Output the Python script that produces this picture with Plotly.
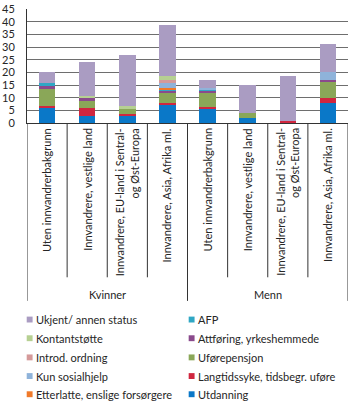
import plotly.graph_objects as go

# Categories (x) grouped by sex
groups = ["Kvinner", "Menn"]
categories = [
    "Uten innvandrerbakgrunn",
    "Innvandrere, vestlige land",
    "Innvandrere, EU-land i Sentral-<br>og Øst-Europa",
    "Innvandrere, Asia, Afrika ml.",
]
x_keys = [f"{g}|{c}" for g in groups for c in categories]

# Stacked series, bottom to top (percent)
utdanning = [5.8, 2.8, 2.8, 7.0, 5.5, 2.0, 0.0, 8.0]
langtidssyke = [1.0, 3.0, 0.9, 1.0, 1.0, 0.0, 0.7, 2.0]
uforepensjon = [6.8, 2.8, 1.8, 4.0, 5.2, 2.0, 0.0, 6.0]
attforing = [0.9, 1.1, 0.0, 0.7, 0.9, 0.0, 0.0, 1.0]
afp = [1.1, 0.0, 0.0, 0.3, 0.8, 0.0, 0.0, 0.0]
etterlatte = [0.0, 0.0, 0.0, 1.0, 0.0, 0.0, 0.0, 0.0]
kun_sosialhjelp = [0.0, 0.0, 0.0, 1.6, 0.5, 0.0, 0.0, 3.0]
introd = [0.0, 0.0, 0.0, 1.4, 0.0, 0.0, 0.0, 0.0]
kontantstotte = [0.0, 0.9, 1.2, 1.7, 0.0, 0.0, 0.0, 0.0]
ukjent = [4.4, 13.3, 20.2, 20.1, 3.1, 11.0, 18.0, 11.0]

series = [
    ("Utdanning", utdanning, "#0a78c8"),
    ("Langtidssyke, tidsbegr. uføre", langtidssyke, "#d0263f"),
    ("Uførepensjon", uforepensjon, "#8aa758"),
    ("Attføring, yrkeshemmede", attforing, "#8a4a8c"),
    ("AFP", afp, "#2fa7c4"),
    ("Etterlatte, enslige forsørgere", etterlatte, "#f07a2a"),
    ("Kun sosialhjelp", kun_sosialhjelp, "#8fb3da"),
    ("Introd. ordning", introd, "#d59a9a"),
    ("Kontantstøtte", kontantstotte, "#b6d092"),
    ("Ukjent/ annen status", ukjent, "#aa9cc2"),
]

y_ticks = [0, 5, 10, 15, 20, 25, 30, 35, 40, 45]

FONT = "Lato"
TXT = "#262626"
W, H = 350, 408
ML, MR, MT, MB = 21, 2, 7, 285
PW = W - ML - MR
PH = H - MT - MB


def py(p):
    """pixel row -> paper y"""
    return (H - MB - p) / PH


def px(p):
    """pixel column -> paper x"""
    return (p - ML) / PW


fig = go.Figure()
for name, vals, color in series:
    fig.add_trace(go.Bar(
        x=x_keys, y=vals, name=name,
        marker=dict(color=color, line=dict(width=0)),
        showlegend=False,
    ))

fig.update_layout(
    barmode="stack",
    bargap=0.59,
    width=W, height=H,
    margin=dict(l=ML, r=MR, t=MT, b=MB),
    paper_bgcolor="white",
    plot_bgcolor="white",
    font=dict(family=FONT, size=11, color=TXT),
    xaxis=dict(
        type="category", categoryorder="array", categoryarray=x_keys,
        range=[-0.5, len(x_keys) - 0.5],
        showticklabels=False, ticks="", showgrid=False,
        showline=True, linecolor="#333333", linewidth=1,
    ),
    yaxis=dict(
        range=[0, 45], tickvals=y_ticks, ticktext=[str(v) for v in y_ticks],
        showgrid=True, gridcolor="#6e6e6e", gridwidth=1,
        showline=True, linecolor="#333333", linewidth=1,
        zeroline=False, ticks="", ticklabelstandoff=9,
        ticklabeloverflow="allow",
        tickfont=dict(size=11, color=TXT),
    ),
)

shapes = []
annotations = []

# Category dividers below the axis
for i in range(len(x_keys) + 1):
    bottom = 304 if i % 4 == 0 else 280
    shapes.append(dict(
        type="line", xref="x", yref="paper",
        x0=i - 0.5, x1=i - 0.5, y0=0, y1=py(bottom),
        line=dict(color="#333333", width=1),
    ))

# Rotated category labels
for i, key in enumerate(x_keys):
    annotations.append(dict(
        x=i, y=py(126), xref="x", yref="paper",
        text=key.split("|")[1], textangle=-90,
        xanchor="center", yanchor="top", align="right",
        showarrow=False, font=dict(size=11, color=TXT),
    ))

# Group labels
for gi, g in enumerate(groups):
    annotations.append(dict(
        x=gi * 4 + 1.5, y=py(297), xref="x", yref="paper",
        text=g, xanchor="center", yanchor="middle",
        showarrow=False, font=dict(size=11, color=TXT),
    ))

# Legend in two columns (top of stack first)
legend_order = list(reversed(series))
rows = [323, 342, 361.5, 380.5, 399]
col_sq = [20.7, 185.7]
for k, (name, _, color) in enumerate(legend_order):
    col, row = divmod(k, 5)
    yc = rows[row]
    x0 = col_sq[col]
    shapes.append(dict(
        type="rect", xref="paper", yref="paper",
        x0=px(x0), x1=px(x0 + 6), y0=py(yc + 3), y1=py(yc - 3),
        fillcolor=color, line=dict(width=0),
    ))
    annotations.append(dict(
        x=px(x0 + 7.5), y=py(yc), xref="paper", yref="paper",
        text=name, xanchor="left", yanchor="middle",
        showarrow=False, font=dict(size=11, color=TXT),
    ))

fig.update_layout(shapes=shapes, annotations=annotations)
fig.write_html("out.html")
